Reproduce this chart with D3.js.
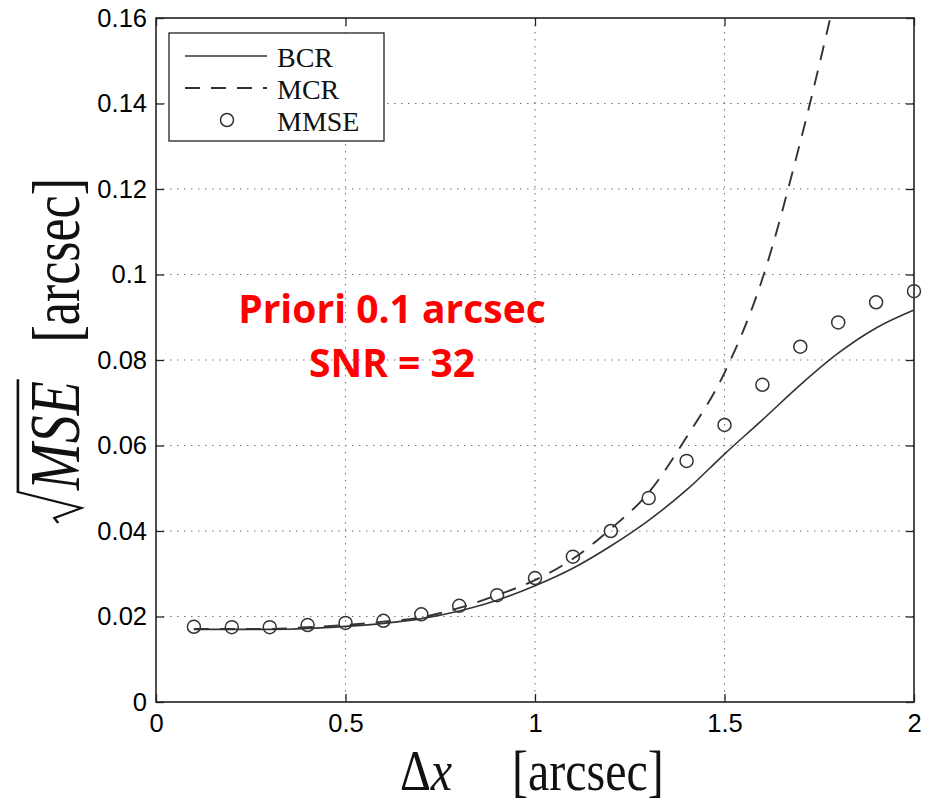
<!DOCTYPE html>
<html>
<head>
<meta charset="utf-8">
<script src="https://cdn.jsdelivr.net/npm/d3@7"></script>
<style>
  body { margin: 0; background: #fff; }
  svg { display: block; }
</style>
</head>
<body>
<div id="chart"></div>
<script>
// offset dx [arcsec]
const dx = [0.1, 0.2, 0.3, 0.4, 0.5, 0.6, 0.7, 0.8, 0.9, 1.0, 1.1, 1.2, 1.3, 1.4, 1.5, 1.6, 1.7, 1.8, 1.9, 2.0];
// sqrt(MSE) [arcsec]
const bcr  = [0.0170, 0.0170, 0.0170, 0.0172, 0.0177, 0.0184, 0.0195, 0.0213, 0.0238, 0.0272, 0.0313, 0.0365, 0.0425, 0.0496, 0.0580, 0.0660, 0.0742, 0.0816, 0.0875, 0.0917];
const mcr  = [0.0171, 0.0171, 0.0171, 0.0175, 0.0180, 0.0188, 0.0198, 0.0220, 0.0250, 0.0285, 0.0335, 0.0405, 0.0490, 0.0620, 0.0770, 0.0990, 0.1310, 0.1680];
const mmse = [0.0176, 0.0175, 0.0175, 0.0180, 0.0185, 0.0190, 0.0205, 0.0225, 0.0250, 0.0290, 0.0340, 0.0400, 0.0477, 0.0564, 0.0648, 0.0742, 0.0831, 0.0888, 0.0935, 0.0961];

const xTicks = [0, 0.5, 1, 1.5, 2];
const xTickLabels = ["0", "0.5", "1", "1.5", "2"];
const yTicks = [0, 0.02, 0.04, 0.06, 0.08, 0.1, 0.12, 0.14, 0.16];
const yTickLabels = ["0", "0.02", "0.04", "0.06", "0.08", "0.1", "0.12", "0.14", "0.16"];
const legendLabels = ["BCR", "MCR", "MMSE"];
const note = ["Priori 0.1 arcsec", "SNR = 32"];

const W = 936, H = 804;
const margin = { top: 18, right: 22, bottom: 102, left: 156 },
    width = W - margin.left - margin.right,
    height = H - margin.top - margin.bottom;

const svg = d3.select("#chart")
    .append("svg")
    .attr("width", W)
    .attr("height", H);

const g = svg.append("g")
    .attr("transform", `translate(${margin.left},${margin.top})`);

const x = d3.scaleLinear().domain([0, 2]).range([0, width]);
const y = d3.scaleLinear().domain([0, 0.16]).range([height, 0]);

svg.append("defs").append("clipPath").attr("id", "plot")
    .append("rect").attr("width", width).attr("height", height);

// dotted grid
g.selectAll(".gx").data(xTicks.slice(1, -1)).join("line")
    .attr("x1", d => x(d)).attr("x2", d => x(d))
    .attr("y1", 0).attr("y2", height)
    .attr("stroke", "#777").attr("stroke-width", 1.1)
    .attr("stroke-dasharray", "1.5,5.5");
g.selectAll(".gy").data(yTicks.slice(1, -1)).join("line")
    .attr("y1", d => y(d)).attr("y2", d => y(d))
    .attr("x1", 0).attr("x2", width)
    .attr("stroke", "#777").attr("stroke-width", 1.1)
    .attr("stroke-dasharray", "1.5,5.5");

// axes, ticks pointing inward
const tickFont = "'Liberation Sans', Arial, sans-serif";
g.append("g").attr("transform", `translate(0,${height})`)
    .call(d3.axisBottom(x).tickValues(xTicks).tickSize(-8).tickPadding(12)
        .tickFormat((d, i) => xTickLabels[i]));
g.append("g")
    .call(d3.axisLeft(y).tickValues(yTicks).tickSize(-8).tickPadding(9)
        .tickFormat((d, i) => yTickLabels[i]));
g.append("g").call(d3.axisTop(x).tickValues(xTicks).tickSize(-8).tickFormat(""));
g.append("g").attr("transform", `translate(${width},0)`)
    .call(d3.axisRight(y).tickValues(yTicks).tickSize(-8).tickFormat(""));
g.selectAll(".domain").remove();
g.selectAll(".tick line").attr("stroke", "#222").attr("stroke-width", 1.3);
g.selectAll(".tick text").attr("fill", "#000")
    .style("font-family", tickFont).style("font-size", "25.5px");

g.append("rect").attr("width", width).attr("height", height)
    .attr("fill", "none").attr("stroke", "#222").attr("stroke-width", 1.6);

// curves
const line = d3.line()
    .x((d, i) => x(dx[i]))
    .y(d => y(d))
    .curve(d3.curveMonotoneX);

g.append("path").datum(bcr)
    .attr("d", line)
    .attr("fill", "none").attr("stroke", "#333").attr("stroke-width", 1.6);

g.append("path").datum(mcr)
    .attr("clip-path", "url(#plot)")
    .attr("d", line)
    .attr("fill", "none").attr("stroke", "#333").attr("stroke-width", 1.9)
    .attr("stroke-dasharray", "15,11");

g.selectAll(".pt").data(mmse).join("circle")
    .attr("cx", (d, i) => x(dx[i]))
    .attr("cy", d => y(d))
    .attr("r", 6.5)
    .attr("fill", "none").attr("stroke", "#333").attr("stroke-width", 1.5);

// legend
const serif = "'Liberation Serif', 'Times New Roman', serif";
const lg = svg.append("g");
lg.append("rect").attr("x", 169).attr("y", 33).attr("width", 215).attr("height", 108)
    .attr("fill", "#fff").attr("stroke", "#222").attr("stroke-width", 1.3);
const rowY = [56, 88, 120];
lg.append("line").attr("x1", 185).attr("x2", 267).attr("y1", rowY[0]).attr("y2", rowY[0])
    .attr("stroke", "#333").attr("stroke-width", 1.6);
lg.append("line").attr("x1", 185).attr("x2", 267).attr("y1", rowY[1]).attr("y2", rowY[1])
    .attr("stroke", "#333").attr("stroke-width", 1.9).attr("stroke-dasharray", "15,11");
lg.append("circle").attr("cx", 227).attr("cy", rowY[2]).attr("r", 6.5)
    .attr("fill", "none").attr("stroke", "#333").attr("stroke-width", 1.5);
lg.selectAll("text").data(legendLabels).join("text")
    .attr("x", 277).attr("y", (d, i) => rowY[i] + 11)
    .style("font-family", serif).style("font-size", "28px").attr("fill", "#111")
    .text(d => d);

// annotation
svg.selectAll(".note").data(note).join("text")
    .attr("x", 392).attr("y", (d, i) => 323 + i * 54)
    .attr("text-anchor", "middle")
    .style("font-family", "'Open Sans', sans-serif").style("font-weight", "bold")
    .style("font-size", "39px").attr("fill", "#f00")
    .text(d => d);

// x label
const xl = svg.append("g").attr("transform", "translate(0,790)");
xl.append("text").attr("transform", "translate(400,0) scale(1,1.18)")
    .style("font-family", serif).style("font-size", "48px").attr("fill", "#111")
    .call(t => { t.append("tspan").text("Δ"); t.append("tspan").style("font-style", "italic").text("x"); });
xl.append("text").attr("transform", "translate(512,0) scale(1,1.18)")
    .style("font-family", serif).style("font-size", "48px").attr("fill", "#111")
    .text("[arcsec]");

// y label: sqrt(MSE) [arcsec], rotated
const yl = svg.append("g").attr("transform", "translate(79,523) rotate(-90) scale(1,1.3)");
const mse = yl.append("text").attr("x", 33)
    .style("font-family", serif).style("font-size", "56px").style("font-style", "italic")
    .attr("fill", "#111").text("MSE");
const mw = mse.node().getComputedTextLength();
yl.append("path")
    .attr("d", `M0,-16 L5,-19 L15,2 L31,-47 L${33 + mw + 2},-47`)
    .attr("fill", "none").attr("stroke", "#111").attr("stroke-width", 2).attr("stroke-linejoin", "miter");
yl.append("text").attr("x", 345).attr("text-anchor", "end")
    .style("font-family", serif).style("font-size", "52px").attr("fill", "#111")
    .text("[arcsec]");
</script>
</body>
</html>
